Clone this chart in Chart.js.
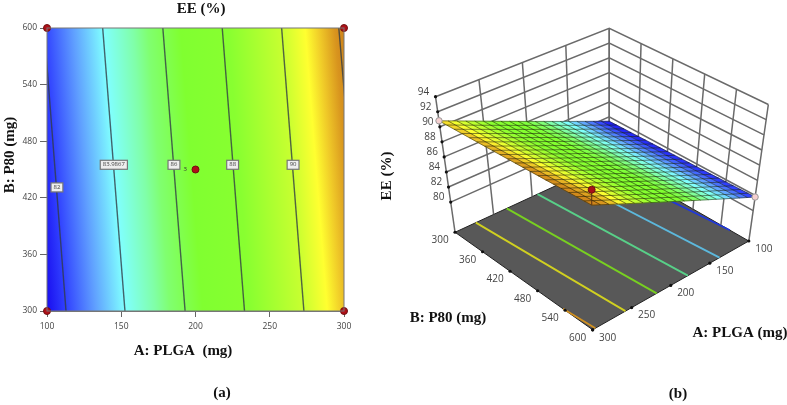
<!DOCTYPE html>
<html>
<head>
<meta charset="utf-8">
<style>
html,body{margin:0;padding:0;background:#fff;overflow:hidden}
canvas{position:absolute;top:0;filter:blur(0.55px)}
#contourChart{left:0}
#surfaceChart{left:370px}
</style>
<script src="https://cdn.jsdelivr.net/npm/chart.js@4"></script>
</head>
<body>
<canvas id="contourChart" width="370" height="405"></canvas>
<canvas id="surfaceChart" width="417" height="405"></canvas>
<script>
// factor ticks
const plgaTicks=[100,150,200,250,300];
const p80Ticks=[300,360,420,480,540,600];
const eeTicks=[80,82,84,86,88,90,92,94];

// contour lines, A value where each one meets B=300 and B=600
const contourA300=[112.8,152.5,193,233,273,312.8];
const contourA600=[98,137.5,178,218,258,296.5];
const contourColours=["#2038d8","#5cb8dc","#58d088","#78d020","#d0d020","#d09020"];

// contour label boxes
const labelTexts=["82","83.9867","86","88","90"];
const labelA=[106.7,145,185.5,225,265.7];
const labelB=[431,455,455,455,455];

// design points on the contour plot
const designA=[100,300,100,300,200];
const designB=[300,300,600,600,450];

// colour bands: EE level on the surface, colour, and A position of the band at B=300 and B=600
const bandLevels=[81,81.4,82,83,84,85,85.5,86.6,88.2,89.5,90.3,90.8,91.4,92.3];
const bandColours=["#1408e8","#1a10f0","#3040ff","#60a0ff","#80ffff","#80ffa8","#80ff70","#80ff30","#88ff30","#c8ff30","#ffff30","#efc828","#d8941e","#c87818"];
const bandA300=[92.8,100.8,112.8,132.8,152.8,172.8,182.8,204.8,236.8,272.8,288.8,298.8,308.8,318.8];
const bandA600=[77.8,85.8,97.8,117.8,137.8,157.8,167.8,189.8,221.8,257.8,273.8,283.8,293.8,303.8];

// response surface mesh
const plgaGrid=[100,110,120,130,140,150,160,170,180,190,200,210,220,230,240,250,260,270,280,290,300];
const p80Grid=[300,315,330,345,360,375,390,405,420,435,450,465,480,495,510,525,540,555,570,585,600];
const eeAtP80Low=[81.4,81.87,82.34,82.81,83.28,83.75,84.22,84.69,85.16,85.63,86.1,86.57,87.04,87.51,87.98,88.45,88.92,89.39,89.86,90.33,90.8];
const eeAtP80High=[81.8,82.32,82.84,83.36,83.88,84.4,84.92,85.44,85.96,86.48,87,87.52,88.04,88.56,89.08,89.6,90.12,90.64,91.16,91.68,92.2];

// points shown on the 3D view
const markerA=[300,100];
const markerB=[300,600];
const markerEE=[90.8,81.8];
const redA=[300];
const redB=[600];
const redEE=[94.2];

const SERIF="'Liberation Serif',serif";
const SANS="'Open Sans',sans-serif";
const TICK="#444";

function rgb(hex){
    return [1,3,5].map(i=>parseInt(hex.substr(i,2),16));
}
function colourFor(ee){
    let i=0;
    while(i<bandLevels.length-2&&ee>bandLevels[i+1])i++;
    const t=Math.max(0,Math.min(1,(ee-bandLevels[i])/(bandLevels[i+1]-bandLevels[i])));
    const a=rgb(bandColours[i]),b=rgb(bandColours[i+1]);
    return "rgb("+a.map((v,k)=>Math.round(v+(b[k]-v)*t)).join(",")+")";
}
function text(ctx,s,x,y,font,color,rot,align){
    ctx.save();
    ctx.translate(x,y);
    if(rot)ctx.rotate(rot);
    ctx.font=font;
    ctx.fillStyle=color;
    ctx.textAlign=align||"center";
    ctx.textBaseline="middle";
    ctx.fillText(s,0,0);
    ctx.restore();
}

/* ---- (a) contour plot ---- */
const contourPlugin={
    id:"contourBack",
    beforeDatasetsDraw(chart){
        const {ctx,chartArea:c,scales:{x,y}}=chart;
        ctx.save();
        ctx.beginPath();
        ctx.rect(c.left,c.top,c.width,c.height);
        ctx.clip();
        for(let py=Math.floor(c.top);py<c.bottom;py++){
            const f=(y.getValueForPixel(py+0.5)-300)/300;
            const px=bandA300.map((a,i)=>x.getPixelForValue(a+(bandA600[i]-a)*f));
            const g=ctx.createLinearGradient(px[0],0,px[px.length-1],0);
            px.forEach((p,i)=>g.addColorStop((p-px[0])/(px[px.length-1]-px[0]),bandColours[i]));
            ctx.fillStyle=g;
            ctx.fillRect(c.left,py,c.width,1);
        }
        ctx.restore();
    },
    afterDatasetsDraw(chart){
        const {ctx,chartArea:c,scales:{x,y}}=chart;
        ctx.strokeStyle="#777";
        ctx.lineWidth=1;
        ctx.strokeRect(c.left,c.top,c.width,c.height);
        labelTexts.forEach((s,i)=>{
            const px=x.getPixelForValue(labelA[i]),py=y.getPixelForValue(labelB[i]);
            ctx.font="6px "+SANS;
            const w=ctx.measureText(s).width+5;
            ctx.fillStyle="#eee";
            ctx.strokeStyle="#777";
            ctx.lineWidth=1.2;
            ctx.fillRect(px-w/2,py-4.5,w,9);
            ctx.strokeRect(px-w/2,py-4.5,w,9);
            text(ctx,s,px,py,"6px "+SANS,"#444");
        });
        text(ctx,"3",x.getPixelForValue(193),y.getPixelForValue(450),"6px "+SANS,"#333");
    },
    afterDraw(chart){
        const ctx=chart.ctx;
        text(ctx,"EE (%)",201,9,"bold 15px "+SERIF,"#111");
        text(ctx,"A: PLGA  (mg)",183,351,"bold 15px "+SERIF,"#111");
        text(ctx,"B: P80 (mg)",10,155,"bold 15px "+SERIF,"#111",-Math.PI/2);
        text(ctx,"(a)",222,393,"bold 15px "+SERIF,"#111");
    }
};

const contourSets=[{
    type:"scatter",
    data:designA.map((a,i)=>({x:a,y:designB[i]})),
    pointRadius:3.5,
    backgroundColor:"#b01018",
    borderColor:"#701010",
    borderWidth:1,
    clip:false
}];
contourA300.forEach((a,i)=>{
    contourSets.push({
        type:"line",
        data:[{x:a,y:300},{x:contourA600[i],y:600}],
        borderColor:"rgba(50,60,70,0.8)",
        borderWidth:1.4,
        pointRadius:0
    });
});

new Chart(document.getElementById("contourChart"),{
    type:"scatter",
    data:{datasets:contourSets},
    plugins:[contourPlugin],
    options:{
        responsive:false,
        animation:false,
        layout:{padding:{top:28,right:26,left:0,bottom:0}},
        plugins:{legend:{display:false},tooltip:{enabled:false}},
        scales:{
            x:{
                type:"linear",min:100,max:300,
                afterFit(s){s.height=94},
                afterBuildTicks(s){s.ticks=plgaTicks.map(v=>({value:v}))},
                grid:{drawOnChartArea:false,tickLength:6,color:"#666"},
                border:{color:"#777"},
                ticks:{font:{size:8.5,family:"Open Sans"},color:TICK,maxRotation:0,padding:4}
            },
            y:{
                type:"linear",min:300,max:600,
                afterFit(s){s.width=47},
                afterBuildTicks(s){s.ticks=p80Ticks.map(v=>({value:v}))},
                grid:{drawOnChartArea:false,tickLength:7,color:"#666"},
                border:{color:"#777"},
                ticks:{font:{size:8.5,family:"Open Sans"},color:TICK,padding:3}
            }
        }
    }
});

/* ---- (b) 3D view: box corners on the page, as [floor,top] ---- */
const FLOOR=76,TOP=94;
const box={
    "300,300":[[452,233],[432,94]],
    "100,300":[[610,160],[610,24]],
    "100,600":[[753,242],[773,102]],
    "300,600":[[593,333],[592,191]]
};
function project(a,b,ee){
    const u=(a-100)/200,v=(b-300)/300,w=(ee-FLOOR)/(TOP-FLOOR);
    const at=(k,n)=>box[k][0][n]+(box[k][1][n]-box[k][0][n])*w;
    const out=[0,1].map(n=>
        (1-u)*(1-v)*at("100,300",n)+u*(1-v)*at("300,300",n)+
        (1-u)*v*at("100,600",n)+u*v*at("300,600",n));
    return {x:out[0],y:out[1]};
}
function eeAt(i,j){
    const f=(p80Grid[j]-300)/300;
    return eeAtP80Low[i]+(eeAtP80High[i]-eeAtP80Low[i])*f;
}
function poly(ctx,pts,x,y){
    ctx.beginPath();
    pts.forEach((p,i)=>{
        const px=x.getPixelForValue(p.x),py=y.getPixelForValue(p.y);
        if(i)ctx.lineTo(px,py);else ctx.moveTo(px,py);
    });
}
function drawSurface(chart){
    const {ctx,scales:{x,y}}=chart;
    ctx.save();
    ctx.lineJoin="round";
    for(let i=0;i<plgaGrid.length-1;i++){
        for(let j=0;j<p80Grid.length-1;j++){
            poly(ctx,[
                project(plgaGrid[i],p80Grid[j],eeAt(i,j)),
                project(plgaGrid[i+1],p80Grid[j],eeAt(i+1,j)),
                project(plgaGrid[i+1],p80Grid[j+1],eeAt(i+1,j+1)),
                project(plgaGrid[i],p80Grid[j+1],eeAt(i,j+1))
            ],x,y);
            ctx.closePath();
            const col=colourFor((eeAt(i,j)+eeAt(i+1,j+1))/2);
            ctx.fillStyle=col;
            ctx.strokeStyle=col;
            ctx.lineWidth=0.5;
            ctx.fill();
            ctx.stroke();
        }
    }
    ctx.strokeStyle="rgba(15,20,0,0.5)";
    ctx.lineWidth=1;
    plgaGrid.forEach((a,i)=>{
        poly(ctx,p80Grid.map((b,j)=>project(a,b,eeAt(i,j))),x,y);
        ctx.stroke();
    });
    p80Grid.forEach((b,j)=>{
        poly(ctx,plgaGrid.map((a,i)=>project(a,b,eeAt(i,j))),x,y);
        ctx.stroke();
    });
    // stem of the red point
    ctx.strokeStyle="#5a3010";
    poly(ctx,[project(redA[0],redB[0],eeAt(20,20)),project(redA[0],redB[0],redEE[0])],x,y);
    ctx.stroke();
    ctx.restore();
}

const surfacePlugin={
    id:"surfaceMesh",
    beforeDatasetsDraw(chart){
        const {ctx,scales:{x,y}}=chart;
        poly(ctx,[project(300,300,FLOOR),project(100,300,FLOOR),project(100,600,FLOOR),project(300,600,FLOOR)],x,y);
        ctx.closePath();
        ctx.fillStyle="#585858";
        ctx.fill();
        ctx.strokeStyle="#222";
        ctx.lineWidth=1;
        ctx.stroke();
    },
    afterDatasetDraw(chart,args){
        if(args.index===2)drawSurface(chart);
    },
    afterDraw(chart){
        const {ctx,scales:{x,y}}=chart;
        const at=(p,dx,dy)=>[x.getPixelForValue(p.x)+dx,y.getPixelForValue(p.y)+dy];
        const f="10px "+SANS;
        eeTicks.forEach(v=>{
            const p=at(project(300,300,v),-12,-5);
            text(ctx,String(v),p[0],p[1],f,TICK);
        });
        p80Ticks.forEach(v=>{
            const p=at(project(300,v,FLOOR),-15,8);
            text(ctx,String(v),p[0],p[1],f,TICK);
        });
        plgaTicks.forEach(v=>{
            const p=at(project(v,600,FLOOR),15,8);
            text(ctx,String(v),p[0],p[1],f,TICK);
        });
        text(ctx,"EE (%)",17,176,"bold 15px "+SERIF,"#111",-Math.PI/2);
        text(ctx,"B: P80 (mg)",78,318,"bold 15px "+SERIF,"#111");
        text(ctx,"A: PLGA (mg)",370,333,"bold 15px "+SERIF,"#111");
        text(ctx,"(b)",308,394,"bold 15px "+SERIF,"#111");
    }
};

function wallLine(pts){
    return {type:"line",data:pts,borderColor:"#6a6a6a",borderWidth:1.5,pointRadius:0};
}
const surfaceSets=[
    {type:"scatter",data:redA.map((a,i)=>project(a,redB[i],redEE[i])),pointRadius:3.5,backgroundColor:"#a81018",borderColor:"#701010",borderWidth:1},
    {type:"scatter",data:markerA.map((a,i)=>project(a,markerB[i],markerEE[i])),pointRadius:3.2,backgroundColor:"#f6d0d0",borderColor:"#999",borderWidth:1},
];

// floor contours, cut at the edge of the floor (A 100 to 300)
const floorSets=[];
contourA300.forEach((a0,i)=>{
    const a1=contourA600[i];
    const bFor=a=>300+(a-a0)/(a1-a0)*300;
    let p0=[a0,300],p1=[a1,600];
    if(a0>300)p0=[300,bFor(300)];
    if(a1<100)p1=[100,bFor(100)];
    floorSets.push({
        type:"line",
        data:[project(p0[0],p0[1],FLOOR),project(p1[0],p1[1],FLOOR)],
        borderColor:contourColours[i],
        borderWidth:1.8,
        pointRadius:0
    });
});

// walls at B=300 and A=100
const wallSets=[];
eeTicks.forEach(v=>{
    wallSets.push(wallLine([project(300,300,v),project(100,300,v),project(100,600,v)]));
});
plgaTicks.forEach(v=>{
    wallSets.push(wallLine([project(v,300,FLOOR),project(v,300,TOP)]));
});
p80Ticks.forEach(v=>{
    wallSets.push(wallLine([project(100,v,FLOOR),project(100,v,TOP)]));
});

// axis tick dots
const dots=eeTicks.map(v=>project(300,300,v))
    .concat(p80Ticks.map(v=>project(300,v,FLOOR)))
    .concat(plgaTicks.map(v=>project(v,600,FLOOR)));
surfaceSets.push({type:"scatter",data:dots,pointRadius:1.6,backgroundColor:"#111",borderWidth:0});

new Chart(document.getElementById("surfaceChart"),{
    type:"scatter",
    data:{datasets:surfaceSets.concat(floorSets,wallSets)},
    plugins:[surfacePlugin],
    options:{
        responsive:false,
        animation:false,
        layout:{padding:0},
        plugins:{legend:{display:false},tooltip:{enabled:false}},
        scales:{
            x:{type:"linear",min:370,max:787,display:false},
            y:{type:"linear",min:0,max:405,reverse:true,display:false}
        }
    }
});
</script>
</body>
</html>
